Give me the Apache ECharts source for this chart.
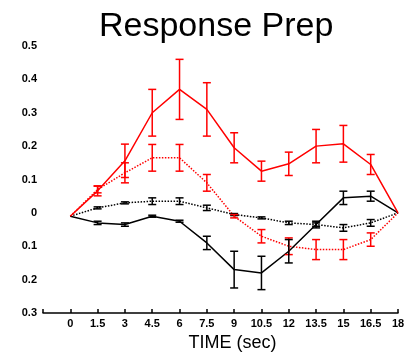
<!DOCTYPE html>
<html>
<head>
<meta charset="utf-8">
<script src="https://cdn.jsdelivr.net/npm/echarts@6/dist/echarts.min.js"></script>
<style>
  html, body { margin: 0; padding: 0; background: #fff; }
  #main { width: 414px; height: 357px; }
</style>
</head>
<body>
<div id="main"></div>
<script>
var times = [0, 1.5, 3, 4.5, 6, 7.5, 9, 10.5, 12, 13.5, 15, 16.5, 18];

// red solid
var redSolid = [-0.01, 0.066, 0.156, 0.3, 0.37, 0.31, 0.195, 0.125, 0.147, 0.2, 0.207, 0.145, 0];
var redSolidErr = [0, 0.015, 0.05, 0.07, 0.09, 0.08, 0.045, 0.03, 0.035, 0.05, 0.055, 0.03, 0];
// red dotted
var redDot = [-0.01, 0.07, 0.12, 0.165, 0.165, 0.09, -0.01, -0.07, -0.1, -0.11, -0.11, -0.08, 0];
var redDotErr = [0, 0.01, 0.03, 0.04, 0.04, 0.025, 0.005, 0.02, 0.025, 0.03, 0.03, 0.02, 0];
// black solid
var blackSolid = [-0.01, -0.03, -0.035, -0.01, -0.025, -0.09, -0.17, -0.18, -0.115, -0.035, 0.045, 0.05, 0];
var blackSolidErr = [0, 0.005, 0.005, 0.003, 0.003, 0.02, 0.055, 0.05, 0.035, 0.01, 0.02, 0.015, 0];
// black dotted
var blackDot = [-0.01, 0.015, 0.03, 0.035, 0.035, 0.015, -0.005, -0.015, -0.03, -0.035, -0.045, -0.03, 0];
var blackDotErr = [0, 0.003, 0.003, 0.01, 0.01, 0.008, 0.003, 0.003, 0.005, 0.005, 0.01, 0.01, 0];

var chartDom = document.getElementById('main');
var myChart = echarts.init(chartDom);
var option;

function pairs(vals) {
  return times.map(function (t, i) { return [t, vals[i]]; });
}

function bars(vals, errs) {
  return times.map(function (t, i) { return [t, vals[i] - errs[i], vals[i] + errs[i]]; });
}

function errorSeries(vals, errs, color) {
  return {
    type: 'custom',
    silent: true,
    data: bars(vals, errs),
    encode: { x: 0, y: [1, 2] },
    renderItem: function (params, api) {
      var lo = api.coord([api.value(0), api.value(1)]);
      var hi = api.coord([api.value(0), api.value(2)]);
      if (Math.abs(lo[1] - hi[1]) < 1) return;
      var w = 4;
      var style = { stroke: color, lineWidth: 1.5 };
      return {
        type: 'group',
        children: [
          { type: 'line', shape: { x1: lo[0], y1: lo[1], x2: hi[0], y2: hi[1] }, style: style },
          { type: 'line', shape: { x1: lo[0] - w, y1: lo[1], x2: lo[0] + w, y2: lo[1] }, style: style },
          { type: 'line', shape: { x1: hi[0] - w, y1: hi[1], x2: hi[0] + w, y2: hi[1] }, style: style }
        ]
      };
    },
    z: 3
  };
}

function lineSeries(vals, color, type) {
  return {
    type: 'line',
    data: pairs(vals),
    showSymbol: false,
    silent: true,
    lineStyle: { color: color, width: 1.5, type: type },
    z: 2
  };
}

option = {
  animation: false,
  title: {
    text: 'Response Prep',
    left: 94,
    top: 5,
    textStyle: {
      fontFamily: 'Liberation Sans',
      fontSize: 34,
      fontWeight: 'normal',
      color: '#000'
    }
  },
  grid: {
    left: 43,
    right: 16,
    top: 46,
    bottom: 44
  },
  xAxis: {
    type: 'value',
    min: -1.5,
    max: 18,
    interval: 1.5,
    name: 'TIME (sec)',
    nameLocation: 'middle',
    nameGap: 19,
    nameTextStyle: {
      fontFamily: 'Liberation Sans',
      fontSize: 18,
      color: '#000',
      padding: [0, 0, 0, 24]
    },
    axisLine: { onZero: false, lineStyle: { color: '#000', width: 1.5 } },
    axisTick: { inside: true, length: 4, lineStyle: { color: '#000', width: 1.5 } },
    splitLine: { show: false },
    axisLabel: {
      fontFamily: 'Liberation Sans',
      fontSize: 11,
      fontWeight: 'bold',
      color: '#000',
      margin: 5,
      formatter: function (v) { return v < 0 ? '' : String(v); }
    }
  },
  yAxis: {
    type: 'value',
    min: -0.3,
    max: 0.5,
    interval: 0.1,
    axisLine: { show: false },
    axisTick: { show: false },
    splitLine: { show: false },
    axisLabel: {
      fontFamily: 'Liberation Sans',
      fontSize: 11,
      fontWeight: 'bold',
      color: '#000',
      margin: 6,
      formatter: function (v) {
        var a = Math.abs(v);
        return a < 1e-9 ? '0' : a.toFixed(1);
      }
    }
  },
  series: [
    lineSeries(blackDot, '#000', 'dotted'),
    lineSeries(redDot, '#ff0000', 'dotted'),
    lineSeries(blackSolid, '#000', 'solid'),
    lineSeries(redSolid, '#ff0000', 'solid'),
    errorSeries(blackDot, blackDotErr, '#000'),
    errorSeries(redDot, redDotErr, '#ff0000'),
    errorSeries(blackSolid, blackSolidErr, '#000'),
    errorSeries(redSolid, redSolidErr, '#ff0000')
  ]
};

option && myChart.setOption(option);
</script>
</body>
</html>
